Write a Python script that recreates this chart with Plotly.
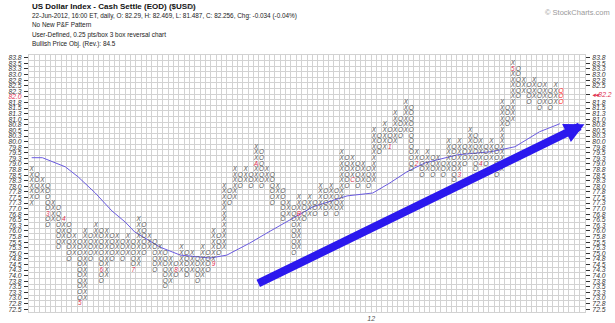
import plotly.graph_objects as go

BOX = 0.25

# P&F columns (even index = X column, odd index = O column): lowest and highest box
col_low = [77.25, 77.5, 77.75, 76.25, 76.5, 75.25, 75.5, 74.75, 75.0, 72.75,
           73.0, 74.75, 75.0, 73.75, 74.0, 74.75, 75.0, 74.75, 75.0, 74.25,
           74.5, 75.0, 75.25, 74.25, 74.5, 73.5, 73.75, 74.0, 74.25, 74.0,
           74.25, 73.75, 74.0, 74.25, 74.5, 75.0, 75.25, 77.25, 77.5, 78.0,
           78.25, 78.0, 78.25, 78.0, 78.25, 77.25, 77.5, 76.5, 76.75, 75.0,
           75.25, 76.5, 76.75, 76.75, 77.0, 76.75, 77.0, 76.75, 77.0, 78.0,
           78.25, 78.0, 78.25, 78.0, 78.25, 79.5, 79.75, 79.75, 80.0, 80.25,
           80.5, 78.75, 79.0, 78.5, 78.75, 78.5, 78.75, 78.5, 78.75, 78.25,
           78.5, 79.0, 79.25, 78.75, 79.0, 79.0, 79.25, 78.5, 78.75, 80.75,
           81.0, 82.0, 82.25, 81.75, 82.0, 81.5, 81.75, 81.5, 81.75, 81.75]
col_high = [78.75, 78.5, 78.25, 78.0, 77.25, 77.0, 76.5, 76.25, 75.75, 75.5,
            76.0, 75.75, 76.25, 76.0, 76.0, 75.75, 75.75, 75.5, 75.75, 75.5,
            76.5, 76.25, 75.75, 75.5, 75.25, 75.0, 74.75, 74.5, 75.25, 75.0,
            75.0, 74.75, 75.25, 75.0, 76.0, 75.75, 78.0, 77.75, 78.75, 78.5,
            78.75, 78.5, 79.75, 79.5, 78.75, 78.5, 78.0, 77.75, 77.25, 77.0,
            77.5, 77.25, 77.5, 77.25, 78.0, 77.75, 78.0, 77.75, 79.5, 79.25,
            79.25, 79.0, 79.0, 78.75, 80.5, 80.25, 80.75, 80.5, 81.25, 81.0,
            81.75, 81.5, 79.5, 79.25, 79.5, 79.25, 79.25, 79.0, 80.0, 79.75,
            80.0, 79.75, 80.5, 80.25, 80.0, 79.75, 80.0, 79.75, 81.75, 81.5,
            83.5, 83.25, 82.75, 82.5, 82.75, 82.5, 82.5, 82.25, 82.5, 82.25]

# month markers (column, box value, label)
mark_col = [3, 6, 9, 13, 19, 27, 34, 42, 50, 60, 67, 72, 80, 84, 90]
mark_val = [76.75, 76.5, 72.75, 74.25, 74.25, 74.25, 74.5, 79.0, 76.75, 78.25,
            79.75, 79.0, 78.5, 79.0, 83.25]
mark_txt = ["3", "4", "5", "6", "7", "8", "9", "A", "B", "C",
            "1", "2", "3", "4", "5"]

# moving average line (column position, value)
ma_col = [0, 2, 6.3, 8.7, 11.9, 15, 17.5, 19.3, 21.2, 24, 27.8, 33.4, 36.5,
          40.8, 44, 48.3, 52.6, 59, 63.8, 67, 70.2, 73.6, 79.7, 86, 90.4, 95, 98.8]
ma_val = [79.28, 79.28, 78.87, 78.42, 77.7, 76.9, 76.4, 75.95, 75.68, 75.28,
          74.92, 74.79, 74.92, 75.46, 75.91, 76.5, 77.08, 77.57, 77.7, 78.15,
          78.65, 79.05, 79.41, 79.55, 79.77, 80.44, 80.8]

# trend arrow (column, value)
arrow_start = (42.1, 73.62)
arrow_end = (103.4, 80.78)

# axis labels
y_labels = ["83.8", "83.5", "83.3", "83.0", "82.8", "82.5", "82.3", "82.0",
            "81.8", "81.5", "81.3", "81.0", "80.8", "80.5", "80.3", "80.0",
            "79.8", "79.5", "79.3", "79.0", "78.8", "78.5", "78.3", "78.0",
            "77.8", "77.5", "77.3", "77.0", "76.8", "76.5", "76.3", "76.0",
            "75.8", "75.5", "75.3", "75.0", "74.8", "74.5", "74.3", "74.0",
            "73.8", "73.5", "73.3", "73.0", "72.8", "72.5"]
last_price_label = "◂◂82.2"
last_price_val = 82.125
x_tick_vals = [63.5]
x_tick_text = ["12"]

RED = "#e0304f"
INK = "#333333"
GLYPH = "#585858"
FONT = "Liberation Sans, Arial, sans-serif"

# ---- build cells
markers = {(c, v): t for c, v, t in zip(mark_col, mark_val, mark_txt)}
last = len(col_low) - 1
xs, ys, ts = [], [], []
rx, ry, rt = [], [], []
for i, (lo, hi) in enumerate(zip(col_low, col_high)):
    n = int(round((hi - lo) / BOX)) + 1
    sym = "X" if i % 2 == 0 else "O"
    for k in range(n):
        v = lo + k * BOX
        if (i, v) in markers:
            continue
        if i == last:
            rx.append(i); ry.append(v); rt.append(sym)
        else:
            xs.append(i); ys.append(v); ts.append(sym)

W, H = 615, 323
ML, MR, MT, MB = 29, 30, 55, 11
plot_w = W - ML - MR
plot_h = H - MT - MB


def px_x(px):
    return (px - ML) / plot_w


def px_y(py):
    return (H - MB - py) / plot_h


fig = go.Figure()
fig.add_trace(go.Scatter(x=ma_col, y=ma_val, mode="lines",
                         line=dict(color="#6a5be0", width=1),
                         hoverinfo="skip", showlegend=False))
fig.add_trace(go.Scatter(x=xs, y=ys, mode="text", text=ts,
                         textfont=dict(size=6.4, color=GLYPH, family=FONT, style="italic"),
                         hoverinfo="skip", showlegend=False))
fig.add_trace(go.Scatter(x=rx, y=ry, mode="text", text=rt,
                         textfont=dict(size=6.4, color="#ff2a2a", family=FONT, style="italic"),
                         hoverinfo="skip", showlegend=False))
fig.add_trace(go.Scatter(x=mark_col, y=mark_val, mode="text", text=mark_txt,
                         textfont=dict(size=6.4, color=RED, family=FONT, style="italic"),
                         hoverinfo="skip", showlegend=False))
fig.add_trace(go.Scatter(x=[None], y=[None], yaxis="y2", mode="markers",
                         hoverinfo="skip", showlegend=False))

y_pos = [83.75 - BOX * k for k in range(len(y_labels))]
left_text = [f'<span style="color:{RED}">{t}</span>' if abs(v - 82.0) < 1e-9 else t
             for v, t in zip(y_pos, y_labels)]
right_vals, right_text = [], []
for v, t in zip(y_pos, y_labels):
    if abs(v - 82.25) < 1e-9 or abs(v - 82.0) < 1e-9:
        continue
    right_vals.append(v); right_text.append(t)
right_vals.append(last_price_val)
right_text.append(f'<span style="color:{RED}">{last_price_label}</span>')

yr = [72.5 - BOX / 2, 83.75 + BOX / 2]
grid = "#d2d2d2"
fig.update_layout(
    width=W, height=H, margin=dict(l=ML, r=MR, t=MT, b=MB, autoexpand=False),
    paper_bgcolor="white", plot_bgcolor="white",
    font=dict(family=FONT, color=INK),
    xaxis=dict(range=[-0.5, 103.5], tickmode="array", tickvals=x_tick_vals,
               ticktext=x_tick_text, showgrid=False, zeroline=False, ticks="",
               tickfont=dict(size=7, color="#555", style="italic"), automargin=False,
               minor=dict(tickmode="linear", tick0=-0.5, dtick=1, showgrid=True,
                          gridcolor=grid, gridwidth=1),
               showline=True, linecolor=grid, mirror=True, fixedrange=True),
    yaxis=dict(range=yr, tickmode="array", tickvals=y_pos, ticktext=left_text,
               showgrid=False, zeroline=False, ticks="outside", ticklen=4,
               tickcolor="#333", tickwidth=1, ticklabelstandoff=1, automargin=False,
               tickfont=dict(size=6.8, color=INK, style="italic"),
               minor=dict(tickmode="linear", tick0=yr[0], dtick=BOX, showgrid=True,
                          gridcolor=grid, gridwidth=1),
               showline=True, linecolor=grid, mirror=True, fixedrange=True),
    yaxis2=dict(range=yr, overlaying="y", side="right", anchor="x",
                tickmode="array", tickvals=right_vals, ticktext=right_text,
                showgrid=False, zeroline=False, ticks="outside", ticklen=4,
                tickcolor="#333", ticklabelstandoff=1, automargin=False,
                tickfont=dict(size=6.8, color=INK, style="italic"), fixedrange=True),
)

header = [
    ("US Dollar Index - Cash Settle (EOD) ($USD)", 30, 6.5, 8, "bold", "#111"),
    ("22-Jun-2012, 16:00 ET, daily, O: 82.29, H: 82.469, L: 81.487, C: 82.256, Chg: -0.034 (-0.04%)",
     30, 15.7, 6.4, "normal", "#222"),
    ("No New P&F Pattern", 30, 24.5, 6.4, "normal", "#222"),
    ("User-Defined, 0.25 pts/box 3 box reversal chart", 30, 35.3, 6.4, "normal", "#222"),
    ("Bullish Price Obj. (Rev.): 84.5", 30, 44, 6.4, "normal", "#222"),
    ("ICE", 183, 7, 5.5, "normal", "#888"),
]
anns = []
for txt, px, py, sz, wt, col in header:
    anns.append(dict(text=txt, xref="paper", yref="paper", x=px_x(px), y=px_y(py),
                     xanchor="left", yanchor="middle", showarrow=False,
                     font=dict(size=sz, weight=wt, color=col, family=FONT)))
anns.append(dict(text="© StockCharts.com", xref="paper", yref="paper",
                 x=px_x(612), y=px_y(13), xanchor="right", yanchor="middle",
                 showarrow=False, font=dict(size=7.5, color="#9a9a9a", family=FONT)))
anns.append(dict(x=arrow_end[0], y=arrow_end[1], ax=arrow_start[0], ay=arrow_start[1],
                 xref="x", yref="y", axref="x", ayref="y", text="", showarrow=True,
                 arrowhead=2, arrowsize=0.5, arrowwidth=8, arrowcolor="#2b18ee",
                 standoff=0, startstandoff=0))
fig.update_layout(annotations=anns)

fig.write_html("out.html")
